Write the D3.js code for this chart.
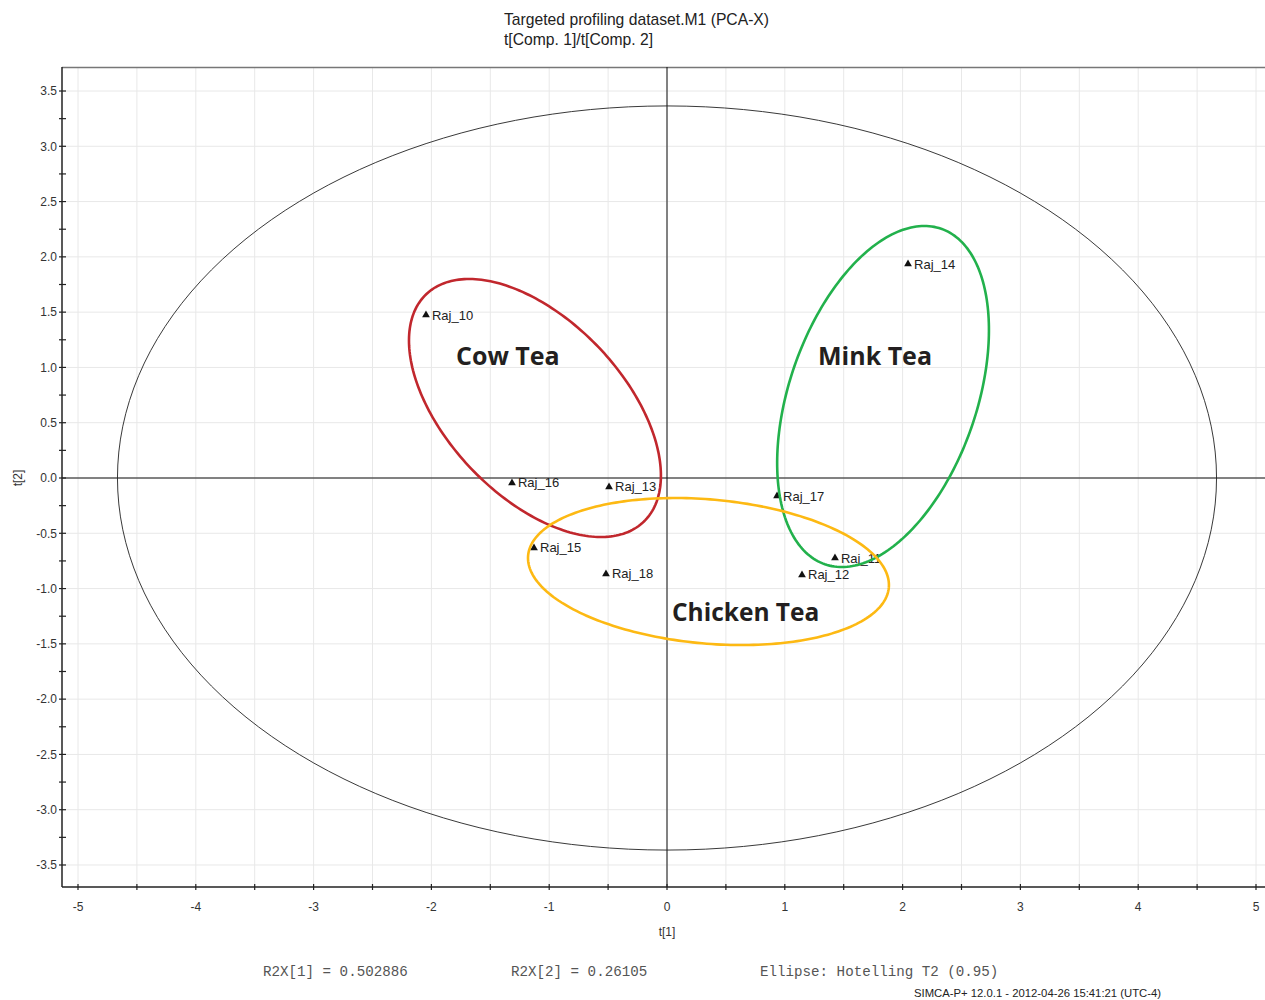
<!DOCTYPE html>
<html>
<head>
<meta charset="utf-8">
<script src="https://cdn.jsdelivr.net/npm/d3@7/dist/d3.min.js"></script>
<style>
  html, body { margin: 0; padding: 0; background: #fff; }
  svg { display: block; }
</style>
</head>
<body>
<svg id="chart" width="1265" height="1000"></svg>
<script>
// Scores on the first two principal components
const sampleNames = ["Raj_10", "Raj_16", "Raj_13", "Raj_15", "Raj_18", "Raj_14", "Raj_17", "Raj_11", "Raj_12"];
const t1Scores = [-2.046, -1.316, -0.492, -1.129, -0.518, 2.046, 0.934, 1.426, 1.146];
const t2Scores = [1.474, -0.045, -0.081, -0.633, -0.868, 1.935, -0.163, -0.724, -0.877];

// Hotelling T2 (0.95) ellipse semi-axes in score units
const hotellingRadii = [4.665, 3.365];

// Tick values
const xTicks = d3.range(-5, 5.01, 0.5);
const xTickLabels = [-5, -4, -3, -2, -1, 0, 1, 2, 3, 4, 5];
const yTicks = d3.range(-3.5, 3.51, 0.25);
const yTickLabels = [-3.5, -3.0, -2.5, -2.0, -1.5, -1.0, -0.5, 0.0, 0.5, 1.0, 1.5, 2.0, 2.5, 3.0, 3.5];

// Group annotations: name, centre, two conjugate half-axis vectors (score units), label anchor
const groupNames = ["Cow Tea", "Mink Tea", "Chicken Tea"];
const groupCentres = [[-1.121, 0.633], [1.834, 0.737], [0.352, -0.846]];
const groupAxisU = [[0.923, -1.029], [0.494, 1.517], [1.531, -0.145]];
const groupAxisV = [[-0.540, -0.550], [0.751, -0.278], [-0.054, -0.649]];
const groupLabelPos = [[-1.791, 1.022], [1.282, 1.022], [0.042, -1.290]];
const groupColours = ["#c1272d", "#22b14c", "#fdb913"];

const footerTexts = ["R2X[1] = 0.502886", "R2X[2] = 0.26105", "Ellipse: Hotelling T2 (0.95)"];
const stampText = "SIMCA-P+ 12.0.1 - 2012-04-26 15:41:21 (UTC-4)";

const svg = d3.select("#chart");
const plot = { left: 62, right: 1265, top: 67, bottom: 887 };

// px per unit: x 117.8, y 110.57; zero at (667, 478)
const x = d3.scaleLinear()
  .domain([(plot.left - 667) / 117.8, (plot.right - 667) / 117.8])
  .range([plot.left, plot.right]);
const y = d3.scaleLinear()
  .domain([(478 - plot.bottom) / 110.57, (478 - plot.top) / 110.57])
  .range([plot.bottom, plot.top]);

const sans = "'Liberation Sans', Arial, sans-serif";

// Title
svg.append("text").attr("x", 504).attr("y", 25)
  .attr("font-family", sans).attr("font-size", 15.7).attr("fill", "#222")
  .text("Targeted profiling dataset.M1 (PCA-X)");
svg.append("text").attr("x", 504).attr("y", 45)
  .attr("font-family", sans).attr("font-size", 15.7).attr("fill", "#222")
  .text("t[Comp. 1]/t[Comp. 2]");

// Grid
const grid = svg.append("g");
grid.selectAll("line.vx").data(xTicks).join("line")
  .attr("x1", d => x(d)).attr("x2", d => x(d))
  .attr("y1", plot.top).attr("y2", plot.bottom)
  .attr("stroke", "#e8e8e8").attr("stroke-width", 1);
grid.selectAll("line.hy").data(yTicks.filter((d, i) => i % 2 === 0)).join("line")
  .attr("x1", plot.left).attr("x2", plot.right)
  .attr("y1", d => y(d)).attr("y2", d => y(d))
  .attr("stroke", "#e8e8e8").attr("stroke-width", 1);

// Frame: top border, crosshair through origin
svg.append("line").attr("x1", plot.left).attr("x2", plot.right)
  .attr("y1", plot.top + 0.5).attr("y2", plot.top + 0.5)
  .attr("stroke", "#777").attr("stroke-width", 1.5);
svg.append("line").attr("x1", x(0)).attr("x2", x(0))
  .attr("y1", plot.top).attr("y2", plot.bottom)
  .attr("stroke", "#111").attr("stroke-width", 1);
svg.append("line").attr("x1", plot.left).attr("x2", plot.right)
  .attr("y1", y(0)).attr("y2", y(0))
  .attr("stroke", "#111").attr("stroke-width", 1);

// Hotelling T2 ellipse
const ellipseLine = d3.line().x(d => x(d[0])).y(d => y(d[1]));
const hotPts = d3.range(0, 181).map(i => {
  const a = i / 180 * 2 * Math.PI;
  return [hotellingRadii[0] * Math.cos(a), hotellingRadii[1] * Math.sin(a)];
});
svg.append("path").attr("d", ellipseLine(hotPts))
  .attr("fill", "none").attr("stroke", "#222").attr("stroke-width", 0.9);

// Axes
const xAxis = svg.append("g").attr("transform", `translate(0,${plot.bottom})`);
xAxis.append("line").attr("x1", plot.left).attr("x2", plot.right)
  .attr("stroke", "#222").attr("stroke-width", 1.5);
xAxis.selectAll("line.t").data(xTicks).join("line")
  .attr("x1", d => x(d)).attr("x2", d => x(d)).attr("y1", -3).attr("y2", 3)
  .attr("stroke", "#222").attr("stroke-width", 1.2);
xAxis.selectAll("text").data(xTickLabels).join("text")
  .attr("x", d => x(d)).attr("y", 24).attr("text-anchor", "middle")
  .attr("font-family", sans).attr("font-size", 12).attr("fill", "#333")
  .text(d => d3.format("d")(d).replace("−", "-"));

const yAxis = svg.append("g").attr("transform", `translate(${plot.left},0)`);
yAxis.append("line").attr("y1", plot.top).attr("y2", plot.bottom)
  .attr("stroke", "#222").attr("stroke-width", 1.5);
yAxis.selectAll("line.t").data(yTicks).join("line")
  .attr("y1", d => y(d)).attr("y2", d => y(d)).attr("x1", -3).attr("x2", 4)
  .attr("stroke", "#222").attr("stroke-width", 1.2);
yAxis.selectAll("text").data(yTickLabels).join("text")
  .attr("x", -5).attr("y", d => y(d) + 4.3).attr("text-anchor", "end")
  .attr("font-family", sans).attr("font-size", 12).attr("fill", "#333")
  .text(d => d3.format(".1f")(d).replace("−", "-"));

// Axis titles
svg.append("text").attr("x", x(0)).attr("y", 936).attr("text-anchor", "middle")
  .attr("font-family", sans).attr("font-size", 12).attr("fill", "#333").text("t[1]");
svg.append("text").attr("transform", `translate(22,${y(0)}) rotate(-90)`)
  .attr("text-anchor", "middle")
  .attr("font-family", sans).attr("font-size", 12).attr("fill", "#333").text("t[2]");

// Sample markers and labels
const tri = d3.symbol().type(d3.symbolTriangle).size(26);
const samples = sampleNames.map((n, i) => ({ name: n, t1: t1Scores[i], t2: t2Scores[i] }));
const pts = svg.append("g").selectAll("g").data(samples).join("g")
  .attr("transform", d => `translate(${x(d.t1)},${y(d.t2)})`);
pts.append("path").attr("d", tri).attr("fill", "#111");
pts.append("text").attr("x", 6).attr("y", 4.5)
  .attr("font-family", sans).attr("font-size", 13).attr("fill", "#222")
  .text(d => d.name);

// Group ellipses and labels
groupNames.forEach((name, g) => {
  const c = groupCentres[g], u = groupAxisU[g], v = groupAxisV[g];
  const ring = d3.range(0, 241).map(i => {
    const a = i / 240 * 2 * Math.PI;
    return [c[0] + u[0] * Math.cos(a) + v[0] * Math.sin(a),
            c[1] + u[1] * Math.cos(a) + v[1] * Math.sin(a)];
  });
  svg.append("path").attr("d", ellipseLine(ring))
    .attr("fill", "none").attr("stroke", groupColours[g]).attr("stroke-width", 2.6);
  svg.append("text")
    .attr("x", x(groupLabelPos[g][0])).attr("y", y(groupLabelPos[g][1]))
    .attr("font-family", "'Open Sans', sans-serif").attr("font-weight", 700)
    .attr("font-size", g === 2 ? 24.5 : 25).attr("fill", "#231f20").text(name);
});

// Footer
const footX = [263, 511, 760];
footerTexts.forEach((t, i) => {
  svg.append("text").attr("x", footX[i]).attr("y", 976)
    .attr("font-family", "'Liberation Mono', 'Courier New', monospace")
    .attr("font-size", 14.2).attr("fill", "#555").text(t);
});
svg.append("text").attr("x", 914).attr("y", 997)
  .attr("font-family", sans).attr("font-size", 11).attr("fill", "#222")
  .attr("textLength", 247).attr("lengthAdjust", "spacingAndGlyphs")
  .text(stampText);
</script>
</body>
</html>
